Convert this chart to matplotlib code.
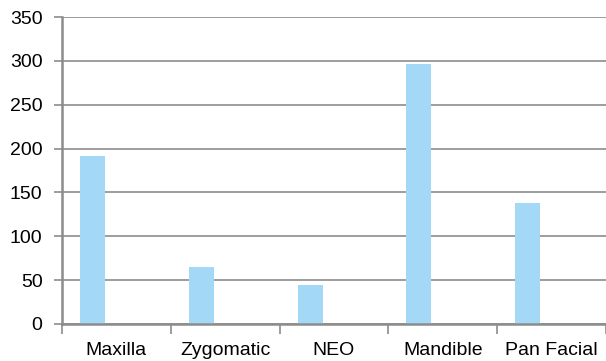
import matplotlib.pyplot as plt
import numpy as np

plt.rcParams['font.family'] = ['Liberation Sans', 'DejaVu Sans']

categories = ['Maxilla', 'Zygomatic', 'NEO', 'Mandible', 'Pan Facial']
counts = [192, 65, 44, 296, 138]
yticks = [0, 50, 100, 150, 200, 250, 300, 350]

fig = plt.figure(figsize=(6.06, 3.61), dpi=100)
ax = fig.add_axes([62 / 606, 37 / 361, 544 / 606, 307 / 361])

x = np.arange(len(categories))
# bars sit in the left part of each category slot
ax.bar(x - 0.22, counts, width=0.23, color='#A3D9F6', zorder=3)

ax.set_ylim(0, 350)
ax.set_xlim(-0.5, -0.5 + 544 / 109)
ax.set_yticks(yticks)
ax.set_yticklabels([str(v) for v in yticks], fontsize=14)
ax.yaxis.grid(True, color='#8c8c8c', linewidth=1.2, zorder=0)

# category labels centred, tick marks on slot boundaries
ax.set_xticks(np.arange(len(categories) + 1) - 0.5)
ax.set_xticklabels([])
ax.set_xticks(x, minor=True)
ax.set_xticklabels(categories, minor=True, fontsize=14)
ax.tick_params(axis='x', which='minor', length=0, pad=13)
ax.tick_params(axis='x', which='major', direction='out', length=7, width=1.2, color='#8c8c8c')
ax.tick_params(axis='y', direction='out', length=6, width=1.2, color='#8c8c8c', pad=8)

for side in ['top', 'right']:
    ax.spines[side].set_visible(False)
for side in ['left', 'bottom']:
    ax.spines[side].set_color('#8c8c8c')
    ax.spines[side].set_linewidth(1.8)
    ax.spines[side].set_zorder(4)

fig.savefig('out.png', dpi=100)
